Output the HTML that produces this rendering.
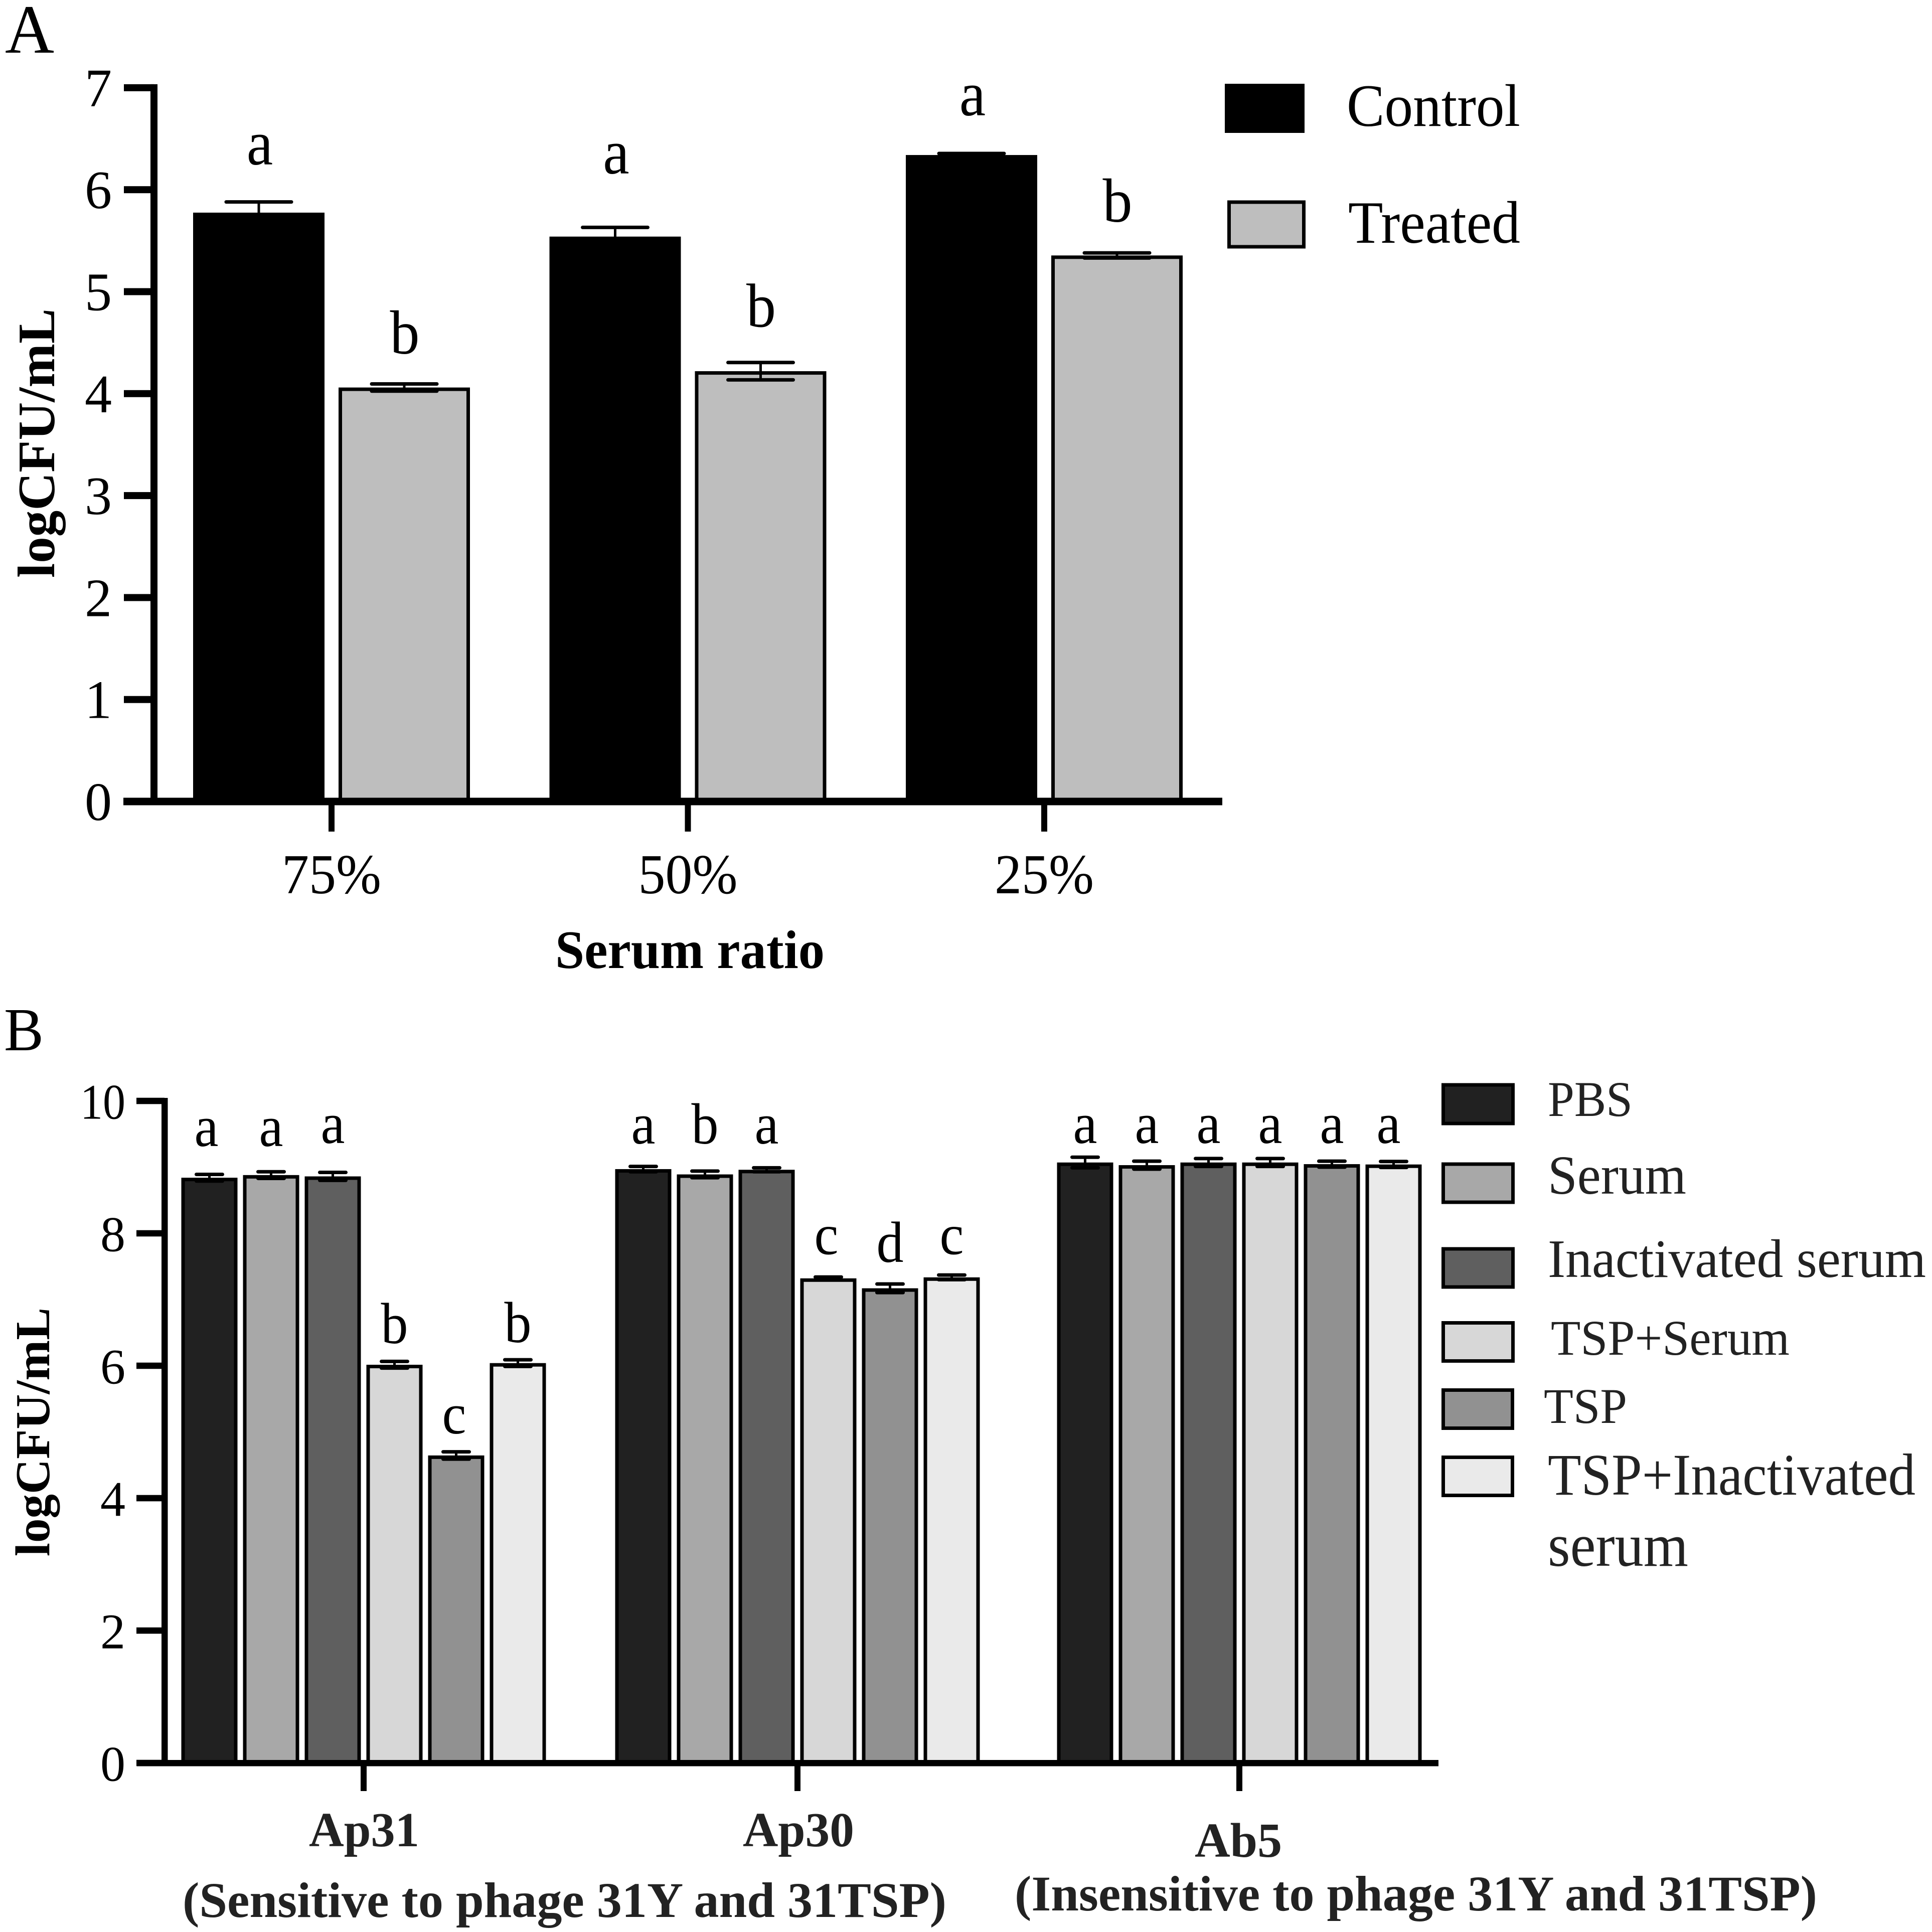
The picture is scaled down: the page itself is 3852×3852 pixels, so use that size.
<!DOCTYPE html>
<html lang="en">
<head>
<meta charset="utf-8">
<title>logCFU/mL bar charts</title>
<style>
html,body{margin:0;padding:0;background:#fff;}
svg{display:block;}
text{font-family:"Liberation Serif",serif;fill:#000;}
.b{font-weight:bold;}
.g{fill:#222;}
</style>
</head>
<body>
<svg id="chart" xmlns="http://www.w3.org/2000/svg" width="3852" height="3852" viewBox="0 0 3852 3852">
  <rect x="0" y="0" width="3852" height="3852" fill="#fff"/>
  <text x="10" y="105" font-size="138" textLength="98" lengthAdjust="spacingAndGlyphs">A</text>
  <text x="8" y="2094" font-size="122" textLength="79" lengthAdjust="spacingAndGlyphs">B</text>

  <g id="panelA"></g>
  <g id="panelB"></g>

  <text class="b" transform="translate(108,1152) rotate(-90)" font-size="105" textLength="537" lengthAdjust="spacingAndGlyphs">logCFU/mL</text>
  <text class="b" x="1107" y="1930" font-size="108" textLength="537" lengthAdjust="spacingAndGlyphs">Serum ratio</text>
  <text class="b" transform="translate(98,3103) rotate(-90)" font-size="98" textLength="496" lengthAdjust="spacingAndGlyphs">logCFU/mL</text>

  <g>
    <rect x="2442" y="167" width="159" height="98" fill="#000"/>
    <text x="2685" y="251" font-size="120" textLength="346" lengthAdjust="spacingAndGlyphs">Control</text>
    <rect x="2450.5" y="403" width="149" height="89" fill="#bebebe" stroke="#000" stroke-width="7"/>
    <text x="2688" y="484" font-size="120" textLength="343" lengthAdjust="spacingAndGlyphs">Treated</text>
  </g>

  <g>
    <rect x="2877.5" y="2163" width="139" height="77" fill="#212121" stroke="#000" stroke-width="7"/>
    <text class="g" x="3086" y="2225" font-size="100" textLength="169" lengthAdjust="spacingAndGlyphs">PBS</text>
    <rect x="2877.5" y="2321" width="139" height="76" fill="#a8a8a8" stroke="#000" stroke-width="7"/>
    <text class="g" x="3086" y="2380" font-size="110" textLength="276" lengthAdjust="spacingAndGlyphs">Serum</text>
    <rect x="2877.5" y="2490" width="139" height="76" fill="#5f5f5f" stroke="#000" stroke-width="7"/>
    <text class="g" x="3086" y="2546" font-size="108" textLength="754" lengthAdjust="spacingAndGlyphs">Inactivated serum</text>
    <rect x="2877.5" y="2637.5" width="139" height="76" fill="#d7d7d7" stroke="#000" stroke-width="7"/>
    <text class="g" x="3092" y="2701" font-size="100" textLength="476" lengthAdjust="spacingAndGlyphs">TSP+Serum</text>
    <rect x="2877.5" y="2771.5" width="138" height="76" fill="#919191" stroke="#000" stroke-width="7"/>
    <text class="g" x="3078" y="2837" font-size="100" textLength="166" lengthAdjust="spacingAndGlyphs">TSP</text>
    <rect x="2877.5" y="2905.5" width="138" height="76" fill="#eaeaea" stroke="#000" stroke-width="7"/>
    <text class="g" x="3086" y="2980" font-size="118" textLength="733" lengthAdjust="spacingAndGlyphs">TSP+Inactivated</text>
    <text class="g" x="3086" y="3122" font-size="122" textLength="280" lengthAdjust="spacingAndGlyphs">serum</text>
  </g>

  <text class="b g" x="616" y="3681" font-size="97" textLength="220" lengthAdjust="spacingAndGlyphs">Ap31</text>
  <text class="b g" x="1481" y="3681" font-size="97" textLength="222" lengthAdjust="spacingAndGlyphs">Ap30</text>
  <text class="b g" x="2382" y="3702" font-size="97" textLength="174" lengthAdjust="spacingAndGlyphs">Ab5</text>
  <text class="b g" x="364" y="3822" font-size="100" textLength="1523" lengthAdjust="spacingAndGlyphs">(Sensitive to phage 31Y and 31TSP)</text>
  <text class="b g" x="2023" y="3809" font-size="100" textLength="1600" lengthAdjust="spacingAndGlyphs">(Insensitive to phage 31Y and 31TSP)</text>
</svg>

<script>
// ---------- Panel A data ----------
const aCategories = ['75%', '50%', '25%'];
const aTicks = [0, 1, 2, 3, 4, 5, 6, 7];
const aControlValues = [5.775, 5.54, 6.34];
const aControlErrors = [0.105, 0.09, 0.015];
const aControlLetters = ['a', 'a', 'a'];
const aControlLetterLift = [0.472, 0.618, 0.389];
const aTreatedValues = [4.06, 4.22, 5.355];
const aTreatedErrors = [0.035, 0.085, 0.025];
const aTreatedLetters = ['b', 'b', 'b'];
const aTreatedLetterLift = [0.332, 0.436, 0.331];

// ---------- Panel B data ----------
const bCategories = ['Ap31', 'Ap30', 'Ab5'];
const bTicks = [0, 2, 4, 6, 8, 10];
const bPbsValues = [8.84, 8.97, 9.07];
const bSerumValues = [8.88, 8.89, 9.03];
const bInactivatedValues = [8.86, 8.96, 9.07];
const bTspSerumValues = [6.015, 7.32, 9.07];
const bTspValues = [4.645, 7.17, 9.045];
const bTspInactivatedValues = [6.04, 7.335, 9.04];
const bPbsErrors = [0.05, 0.04, 0.08];
const bSerumErrors = [0.05, 0.05, 0.06];
const bInactivatedErrors = [0.06, 0.03, 0.06];
const bTspSerumErrors = [0.05, 0.02, 0.06];
const bTspErrors = [0.055, 0.065, 0.045];
const bTspInactivatedErrors = [0.05, 0.035, 0.045];
const bPbsLetters = ['a', 'a', 'a'];
const bSerumLetters = ['a', 'b', 'a'];
const bInactivatedLetters = ['a', 'a', 'a'];
const bTspSerumLetters = ['b', 'c', 'a'];
const bTspLetters = ['c', 'd', 'a'];
const bTspInactivatedLetters = ['b', 'c', 'a'];
const bPbsLift = [0.478, 0.386, 0.294];
const bSerumLift = [0.438, 0.466, 0.334];
const bInactivatedLift = [0.504, 0.396, 0.294];
const bTspSerumLift = [0.326, 0.364, 0.294];
const bTspLift = [0.332, 0.398, 0.319];
const bTspInactivatedLift = [0.316, 0.349, 0.324];

const NS = 'http://www.w3.org/2000/svg';

// ---------- Axis functions ----------
function yA(v) { return 1598 - v * 203.3; }
function xGroupA(i) { return 661 + i * 710.5; }
function yB(v) { return 3515 - v * 132; }
function xGroupB(i) { return 725 + i * 865 + (i > 1 ? 16 : 0); }

function make(tag, parent, attrs) {
  const el = document.createElementNS(NS, tag);
  for (const k in attrs) el.setAttribute(k, attrs[k]);
  parent.appendChild(el);
  return el;
}

function drawBar(parent, name, cx, width, value, err, y, fill, capHalf) {
  const sw = 7;
  const top = y(value);
  const bar = make('rect', parent, {
    x: cx - width / 2 + sw / 2, y: top + sw / 2,
    width: width - sw, height: y(0) - top - sw / 2,
    fill: fill, stroke: '#000', 'stroke-width': sw
  });
  
  
  const hi = y(value + err), lo = y(value - err);
  const stem = make('line', parent, { x1: cx, x2: cx, y1: hi, y2: lo, stroke: '#000', 'stroke-width': 5 });
  
  
  const capTop = make('line', parent, { x1: cx - capHalf, x2: cx + capHalf, y1: hi, y2: hi, stroke: '#000', 'stroke-width': 7, 'stroke-linecap': 'round' });
  
  
  const capLow = make('line', parent, { x1: cx - capHalf, x2: cx + capHalf, y1: lo, y2: lo, stroke: '#000', 'stroke-width': 7, 'stroke-linecap': 'round' });
  
  
}

// Letters are drawn slightly taller than wide, as in the figure.
function letterAdvance(letter) { return (letter === 'a' || letter === 'c') ? 0.444 : 0.5; }
function drawLetter(parent, name, cx, baseline, letter, size, widthSize) {
  const t = make('text', parent, {
    x: cx, y: baseline, 'text-anchor': 'middle', 'font-size': size,
    textLength: letterAdvance(letter) * widthSize, lengthAdjust: 'spacingAndGlyphs'
  });
  t.textContent = letter;
  
  
}

// Small hand placement of individual letters in panel B.
function letterShiftB(group, seriesIndex) {
  if (group === 0 && seriesIndex === 0) return -6;
  if (group === 0 && seriesIndex === 4) return -4;
  if (group === 1 && seriesIndex === 3) return -4;
  if (group === 2 && seriesIndex === 5) return -10;
  return 0;
}

// ---------- Panel A ----------
(function () {
  const g = document.getElementById('panelA');
  aCategories.forEach(function (cat, i) {
    const c = xGroupA(i);
    drawBar(g, 'bar-control-' + cat, c - 145, 262, aControlValues[i], aControlErrors[i], yA, '#000', 65);
    drawBar(g, 'bar-treated-' + cat, c + 145, 262, aTreatedValues[i], aTreatedErrors[i], yA, '#bebebe', 65);
    drawLetter(g, 'significance-control-' + cat, c - 143, yA(aControlValues[i] + aControlLetterLift[i]), aControlLetters[i], 126, 118);
    drawLetter(g, 'significance-treated-' + cat, c + 146, yA(aTreatedValues[i] + aTreatedLetterLift[i]), aTreatedLetters[i], 124, 118);
    const tick = make('rect', g, { x: c - 6, y: 1598, width: 12, height: 60, fill: '#000' });
    
    
    const lab = make('text', g, { x: c, y: 1781, 'text-anchor': 'middle', 'font-size': 112, textLength: 198, lengthAdjust: 'spacingAndGlyphs' });
    lab.textContent = cat;
    
    
  });
  const spine = make('rect', g, { x: 300, y: yA(7) - 7, width: 14, height: yA(0) - yA(7) + 14, fill: '#000' });
  
  
  const base = make('rect', g, { x: 246, y: yA(0) - 7.5, width: 2437 - 246, height: 15, fill: '#000' });
  
  
  aTicks.forEach(function (t) {
    const m = make('rect', g, { x: 247, y: yA(t) - 7, width: 60, height: 14, fill: '#000' });
    
    
    const lab = make('text', g, { x: 223, y: yA(t) + 37, 'text-anchor': 'end', 'font-size': 108 });
    lab.textContent = t;
    
    
  });
})();

// ---------- Panel B ----------
(function () {
  const g = document.getElementById('panelB');
  const series = [
    ['pbs', bPbsValues, bPbsErrors, bPbsLetters, bPbsLift, '#212121'],
    ['serum', bSerumValues, bSerumErrors, bSerumLetters, bSerumLift, '#a8a8a8'],
    ['inactivated-serum', bInactivatedValues, bInactivatedErrors, bInactivatedLetters, bInactivatedLift, '#5f5f5f'],
    ['tsp-serum', bTspSerumValues, bTspSerumErrors, bTspSerumLetters, bTspSerumLift, '#d7d7d7'],
    ['tsp', bTspValues, bTspErrors, bTspLetters, bTspLift, '#919191'],
    ['tsp-inactivated-serum', bTspInactivatedValues, bTspInactivatedErrors, bTspInactivatedLetters, bTspInactivatedLift, '#eaeaea']
  ];
  bCategories.forEach(function (cat, i) {
    const c = xGroupB(i);
    series.forEach(function (s, k) {
      const cx = c + (k - 2.5) * 123;
      drawBar(g, 'bar-' + s[0] + '-' + cat, cx, 112, s[1][i], s[2][i], yB, s[5], 26);
      drawLetter(g, 'significance-' + s[0] + '-' + cat, cx + letterShiftB(i, k), yB(s[1][i] + s[4][i]), s[3][i], 115, 108);
    });
    const tick = make('rect', g, { x: c - 6, y: 3515, width: 12, height: 56, fill: '#000' });
    
    
  });
  const spine = make('rect', g, { x: 322, y: yB(10) - 6, width: 12.5, height: yB(0) - yB(10) + 12, fill: '#000' });
  
  
  const base = make('rect', g, { x: 273, y: yB(0) - 6, width: 2868 - 273, height: 12.5, fill: '#000' });
  
  
  bTicks.forEach(function (t) {
    const m = make('rect', g, { x: 272, y: yB(t) - 6.3, width: 56, height: 12.6, fill: '#000' });
    
    
    const lab = make('text', g, { x: 250, y: yB(t) + 35.5, 'text-anchor': 'end', 'font-size': 100 });
    lab.textContent = t;
    if (t >= 10) {
      lab.setAttribute('textLength', 90);
      lab.setAttribute('lengthAdjust', 'spacingAndGlyphs');
    }
    
    
  });
})();
</script>
</body>
</html>
